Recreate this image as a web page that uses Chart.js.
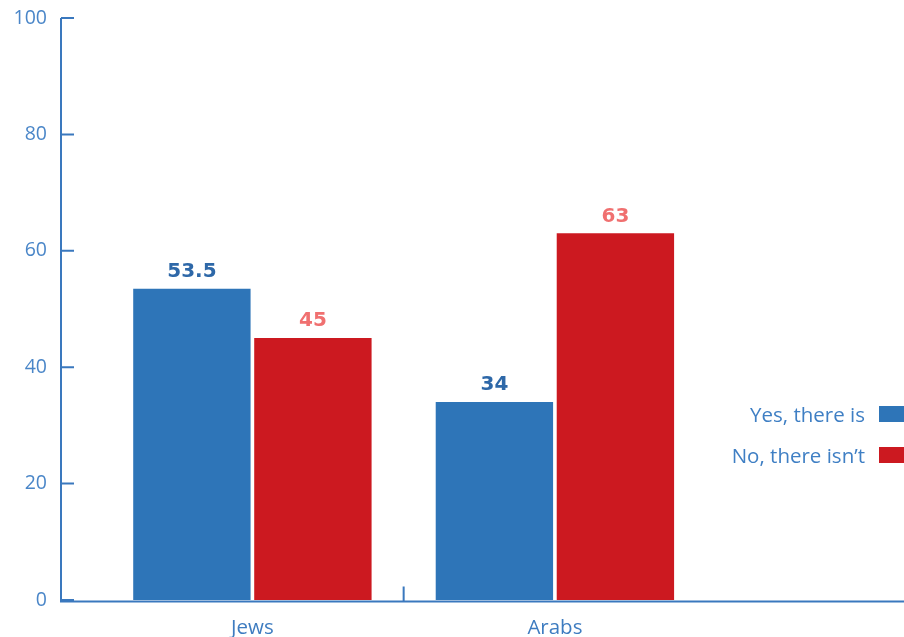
<!DOCTYPE html>
<html>
<head>
<meta charset="utf-8">
<script src="https://cdn.jsdelivr.net/npm/chart.js@4.4.1/dist/chart.umd.min.js"></script>
<style>
  html, body { margin: 0; padding: 0; background: #fff; }
  #wrap { position: relative; width: 904px; height: 637px; }
  #legend { position: absolute; right: 0; top: 399px; font-family: "Open Sans", sans-serif; font-size: 20.5px; color: #3f7fc4; }
  .item { display: flex; align-items: center; justify-content: flex-end; height: 29px; margin-bottom: 12px; }
  .box { width: 25px; height: 16px; margin-left: 14px; }
</style>
</head>
<body>
<div id="wrap">
  <canvas id="chart" width="904" height="637"></canvas>
  <div id="legend"></div>
</div>
<script>
// categories and series
const categories = ['Jews', 'Arabs'];
const seriesNames = ['Yes, there is', 'No, there isn\u2019t'];
const yesValues = [53.5, 34];
const noValues = [45, 63];
const yTicks = [0, 20, 40, 60, 80, 100];

const BLUE = '#2e75b8';
const RED = '#cc1920';
const AXIS = '#3a78be';
const labelColors = ['#2e68a8', '#f07070'];

// axis lines and inward tick marks
const axisPlugin = {
  id: 'axisLines',
  afterDraw(chart) {
    const { ctx, chartArea, scales } = chart;
    const x0 = chartArea.left + 1;
    const yBase = scales.y.getPixelForValue(0) + 1.5;
    ctx.save();
    ctx.strokeStyle = AXIS;
    ctx.lineWidth = 2;
    ctx.beginPath();
    ctx.moveTo(x0, scales.y.getPixelForValue(100));
    ctx.lineTo(x0, yBase);
    yTicks.forEach(v => {
      const py = scales.y.getPixelForValue(v);
      ctx.moveTo(x0, py);
      ctx.lineTo(x0 + 13, py);
    });
    ctx.moveTo(chartArea.left, yBase);
    ctx.lineTo(chartArea.right, yBase);
    const mid = scales.x.getPixelForValue(0.5);
    ctx.moveTo(mid, yBase - 15);
    ctx.lineTo(mid, yBase);
    ctx.stroke();
    ctx.restore();
  }
};

// value labels above each bar
const valuePlugin = {
  id: 'valueLabels',
  afterDatasetsDraw(chart) {
    const { ctx } = chart;
    ctx.save();
    ctx.font = 'bold 20px "DejaVu Sans", sans-serif';
    ctx.textAlign = 'center';
    ctx.textBaseline = 'middle';
    chart.data.datasets.forEach((ds, i) => {
      const meta = chart.getDatasetMeta(i);
      ctx.fillStyle = labelColors[i];
      meta.data.forEach((bar, j) => {
        ctx.fillText(String(ds.data[j].y), bar.x, bar.y - 17);
      });
    });
    ctx.restore();
  }
};

const toPoints = vals => vals.map((v, i) => ({ x: i, y: v }));

const chart = new Chart(document.getElementById('chart'), {
  type: 'bar',
  data: {
    datasets: [
      { label: seriesNames[0], data: toPoints(yesValues), backgroundColor: BLUE },
      { label: seriesNames[1], data: toPoints(noValues), backgroundColor: RED }
    ]
  },
  options: {
    responsive: false,
    animation: false,
    layout: { padding: { top: 18, right: 0, left: 0, bottom: 0 } },
    datasets: { bar: { categoryPercentage: 0.8, barPercentage: 0.97 } },
    plugins: { legend: { display: false }, tooltip: { enabled: false } },
    scales: {
      x: {
        type: 'linear',
        offset: false,
        min: -0.636,
        max: 2.154,
        grid: { display: false, drawTicks: false, offset: false },
        border: { display: false },
        afterBuildTicks(scale) {
          scale.ticks = categories.map((c, i) => ({ value: i }));
        },
        afterFit(scale) {
          scale.height = 37;
          scale.paddingLeft = 0;
          scale.paddingRight = 0;
        },
        ticks: {
          padding: 16,
          color: '#3e7cc0',
          font: { family: '"Open Sans", sans-serif', size: 20.5 },
          callback: (v) => categories[v] ?? ''
        }
      },
      y: {
        min: 0,
        max: 100,
        grid: { display: false, drawTicks: false },
        border: { display: false },
        afterBuildTicks(scale) {
          scale.ticks = yTicks.map(v => ({ value: v }));
        },
        afterFit(scale) {
          scale.width = 60;
          scale.paddingTop = 0;
          scale.paddingBottom = 0;
        },
        ticks: {
          padding: 13,
          color: '#4a86c8',
          font: { family: '"Open Sans", sans-serif', size: 19.5 }
        }
      }
    }
  },
  plugins: [axisPlugin, valuePlugin]
});

// legend: text on the left, colour box on the right
const legend = document.getElementById('legend');
[BLUE, RED].forEach((color, i) => {
  const item = document.createElement('div');
  item.className = 'item';
  item.innerHTML = '<span>' + seriesNames[i] + '</span><span class="box" style="background:' + color + '"></span>';
  legend.appendChild(item);
});
</script>
</body>
</html>
